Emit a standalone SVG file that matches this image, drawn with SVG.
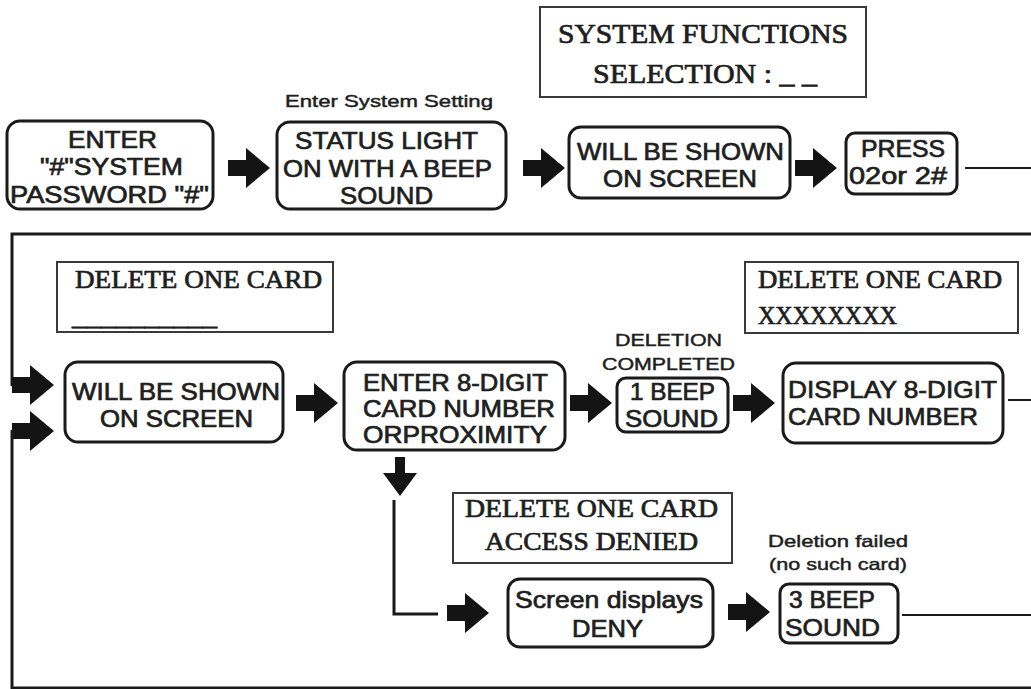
<svg xmlns="http://www.w3.org/2000/svg" width="1031" height="689" viewBox="0 0 1031 689">
<style>
.bg{fill:#ffffff}
.rbox{fill:#ffffff;stroke:#1a1a1a;stroke-width:3}
.lcd{fill:#ffffff;stroke:#3a3a3a;stroke-width:2}
.t{font-family:"Liberation Sans",Arial,sans-serif;font-size:24px;fill:#1e1e1e;stroke:#1e1e1e;stroke-width:0.7}
.s{font-family:"Liberation Sans",Arial,sans-serif;font-size:17px;fill:#1e1e1e;stroke:#1e1e1e;stroke-width:0.45}
.m{font-family:"Liberation Serif","Times New Roman",serif;font-size:27px;fill:#1e1e1e;stroke:#1e1e1e;stroke-width:0.7}
.ln{fill:none;stroke:#1a1a1a;stroke-width:3}
.thin{fill:none;stroke:#1a1a1a;stroke-width:2}
.arr{fill:#141414}
</style>
<defs>
<path id="ar" d="M0,-8 L18,-8 L18,-20 L42,0 L18,20 L18,8 L0,8 Z"/>
</defs>
<rect class="bg" x="0" y="0" width="1031" height="689"/>

<g id="connectors">
<use href="#ar" class="arr" x="228" y="168"/>
<use href="#ar" class="arr" x="523" y="168"/>
<use href="#ar" class="arr" x="795" y="168"/>
<line class="thin" x1="965" y1="168" x2="1031" y2="168"/>
<polyline class="ln" points="1031,234 12,234 12,386"/>
<use href="#ar" class="arr" x="12" y="385"/>
<use href="#ar" class="arr" x="12" y="431"/>
<polyline class="ln" points="12,430 12,688 1031,688"/>
<use href="#ar" class="arr" x="296" y="403"/>
<use href="#ar" class="arr" x="570" y="403"/>
<use href="#ar" class="arr" x="733" y="403"/>
<line class="thin" x1="1008" y1="400" x2="1031" y2="400"/>
<path class="arr" d="M395,457 L405,457 L405,473 L417,473 L400,496 L383,473 L395,473 Z"/>
<polyline class="ln" points="394,500 394,614 438,614"/>
<use href="#ar" class="arr" x="447" y="613"/>
<use href="#ar" class="arr" x="728" y="612"/>
<line class="thin" x1="902" y1="615" x2="1031" y2="615"/>
</g>

<g id="enter-password">
<rect class="rbox" x="7" y="121" width="206" height="88" rx="13"/>
<text class="t" x="68" y="148" textLength="89" lengthAdjust="spacingAndGlyphs">ENTER</text>
<text class="t" x="40" y="175" textLength="143" lengthAdjust="spacingAndGlyphs">"#"SYSTEM</text>
<text class="t" x="10" y="203" textLength="199" lengthAdjust="spacingAndGlyphs">PASSWORD "#"</text>
</g>

<g id="enter-system-setting-label">
<text class="s" x="285" y="107" textLength="208" lengthAdjust="spacingAndGlyphs">Enter System Setting</text>
</g>

<g id="status-light">
<rect class="rbox" x="277" y="122" width="229" height="87" rx="13"/>
<text class="t" x="295" y="149" textLength="183" lengthAdjust="spacingAndGlyphs">STATUS LIGHT</text>
<text class="t" x="283" y="177" textLength="209" lengthAdjust="spacingAndGlyphs">ON WITH A BEEP</text>
<text class="t" x="340" y="204" textLength="93" lengthAdjust="spacingAndGlyphs">SOUND</text>
</g>

<g id="system-functions-lcd">
<rect class="lcd" x="540" y="7" width="326" height="90"/>
<text class="m" x="558" y="43" textLength="290" lengthAdjust="spacingAndGlyphs">SYSTEM  FUNCTIONS</text>
<text class="m" x="593" y="83" textLength="224" lengthAdjust="spacingAndGlyphs">SELECTION : _ _</text>
</g>

<g id="shown-on-screen-1">
<rect class="rbox" x="569" y="127" width="221" height="71" rx="12"/>
<text class="t" x="577" y="160" textLength="207" lengthAdjust="spacingAndGlyphs">WILL BE SHOWN</text>
<text class="t" x="603" y="187" textLength="154" lengthAdjust="spacingAndGlyphs">ON SCREEN</text>
</g>

<g id="press-02">
<rect class="rbox" x="846" y="133" width="111" height="61" rx="9"/>
<text class="t" x="861" y="157" textLength="84" lengthAdjust="spacingAndGlyphs">PRESS</text>
<text class="t" x="849" y="184" textLength="98" lengthAdjust="spacingAndGlyphs">02or 2#</text>
</g>

<g id="delete-one-card-lcd">
<rect class="lcd" x="57" y="262" width="276" height="70"/>
<text class="m" x="75" y="288" textLength="247" lengthAdjust="spacingAndGlyphs" style="font-size:25px">DELETE  ONE  CARD</text>
<text class="m" x="72" y="325" textLength="145" lengthAdjust="spacingAndGlyphs" style="font-size:25px">__________</text>
</g>

<g id="shown-on-screen-2">
<rect class="rbox" x="65" y="362" width="218" height="80" rx="13"/>
<text class="t" x="72" y="400" textLength="208" lengthAdjust="spacingAndGlyphs" style="font-size:23px">WILL BE SHOWN</text>
<text class="t" x="100" y="427" textLength="153" lengthAdjust="spacingAndGlyphs" style="font-size:23px">ON SCREEN</text>
</g>

<g id="enter-card-number">
<rect class="rbox" x="344" y="362" width="221" height="88" rx="13"/>
<text class="t" x="363" y="391" textLength="185" lengthAdjust="spacingAndGlyphs" style="font-size:23px">ENTER 8-DIGIT</text>
<text class="t" x="363" y="417" textLength="192" lengthAdjust="spacingAndGlyphs" style="font-size:23px">CARD NUMBER</text>
<text class="t" x="363" y="443" textLength="184" lengthAdjust="spacingAndGlyphs" style="font-size:23px">ORPROXIMITY</text>
</g>

<g id="deletion-completed-label">
<text class="s" x="615" y="346" textLength="107" lengthAdjust="spacingAndGlyphs">DELETION</text>
<text class="s" x="602" y="370" textLength="133" lengthAdjust="spacingAndGlyphs">COMPLETED</text>
</g>

<g id="one-beep">
<rect class="rbox" x="617" y="378" width="111" height="54" rx="9"/>
<text class="t" x="630" y="400" textLength="85" lengthAdjust="spacingAndGlyphs">1 BEEP</text>
<text class="t" x="625" y="427" textLength="93" lengthAdjust="spacingAndGlyphs">SOUND</text>
</g>

<g id="delete-card-xxxx-lcd">
<rect class="lcd" x="745" y="262" width="273" height="71"/>
<text class="m" x="758" y="288" textLength="244" lengthAdjust="spacingAndGlyphs" style="font-size:25px">DELETE  ONE  CARD</text>
<text class="m" x="758" y="324" textLength="139" lengthAdjust="spacingAndGlyphs" style="font-size:25px">XXXXXXXX</text>
</g>

<g id="display-card-number">
<rect class="rbox" x="783" y="363" width="220" height="80" rx="13"/>
<text class="t" x="788" y="398" textLength="209" lengthAdjust="spacingAndGlyphs">DISPLAY 8-DIGIT</text>
<text class="t" x="788" y="425" textLength="190" lengthAdjust="spacingAndGlyphs">CARD NUMBER</text>
</g>

<g id="access-denied-lcd">
<rect class="lcd" x="453" y="493" width="279" height="70"/>
<text class="m" x="465" y="517" textLength="253" lengthAdjust="spacingAndGlyphs" style="font-size:25px">DELETE  ONE  CARD</text>
<text class="m" x="485" y="550" textLength="213" lengthAdjust="spacingAndGlyphs" style="font-size:25px">ACCESS  DENIED</text>
</g>

<g id="screen-deny">
<rect class="rbox" x="508" y="579" width="205" height="68" rx="12"/>
<text class="t" x="515" y="608" textLength="188" lengthAdjust="spacingAndGlyphs">Screen displays</text>
<text class="t" x="572" y="637" textLength="71" lengthAdjust="spacingAndGlyphs">DENY</text>
</g>

<g id="deletion-failed-label">
<text class="s" x="768" y="547" textLength="140" lengthAdjust="spacingAndGlyphs">Deletion failed</text>
<text class="s" x="769" y="570" textLength="138" lengthAdjust="spacingAndGlyphs">(no such card)</text>
</g>

<g id="three-beep">
<rect class="rbox" x="780" y="584" width="118" height="59" rx="9"/>
<text class="t" x="789" y="608" textLength="86" lengthAdjust="spacingAndGlyphs">3 BEEP</text>
<text class="t" x="785" y="636" textLength="95" lengthAdjust="spacingAndGlyphs">SOUND</text>
</g>
</svg>
